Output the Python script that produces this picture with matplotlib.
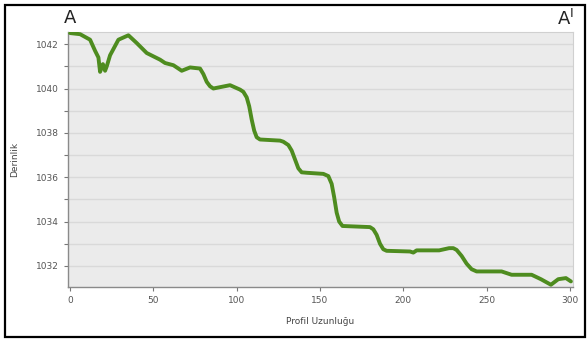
import matplotlib.pyplot as plt
from matplotlib.patches import Rectangle
from matplotlib.ticker import MultipleLocator

# profile: distance along the section vs. depth
distance = [0, 6, 12, 15, 17, 18, 19.7, 21, 22, 24, 29, 35, 40, 46, 54, 57, 62,
            67, 72, 78, 80, 82, 84, 86, 96, 102, 104, 106, 107.5, 109, 110.5,
            112, 114, 126, 128, 131, 133, 135, 137, 139, 142, 152, 155, 157,
            158.5, 160, 161.5, 163.5, 180, 182, 184, 186, 188, 190, 204, 206,
            208, 221.5, 227.5, 230, 232, 235, 238, 241, 244, 259, 265, 277,
            282.6, 288.6, 293, 297.6, 300.6]
depth = [1042.5, 1042.45, 1042.2, 1041.7, 1041.4, 1040.75, 1041.1, 1040.8,
         1041.0, 1041.5, 1042.2, 1042.4, 1042.05, 1041.6, 1041.3, 1041.15,
         1041.05, 1040.8, 1040.95, 1040.9, 1040.65, 1040.3, 1040.1, 1040.0,
         1040.15, 1039.95, 1039.85, 1039.6, 1039.2, 1038.6, 1038.1, 1037.8,
         1037.7, 1037.65, 1037.6, 1037.45, 1037.2, 1036.8, 1036.4, 1036.22,
         1036.2, 1036.15, 1036.05, 1035.7, 1035.1, 1034.4, 1034.0, 1033.8,
         1033.75, 1033.65, 1033.4, 1033.0, 1032.75, 1032.68, 1032.65, 1032.6,
         1032.7, 1032.7, 1032.8, 1032.8, 1032.72, 1032.45, 1032.1, 1031.85,
         1031.75, 1031.75, 1031.6, 1031.6, 1031.4, 1031.15, 1031.4, 1031.45,
         1031.3]

x_ticks = [0, 50, 100, 150, 200, 250, 300]
y_ticks = [1032, 1034, 1036, 1038, 1040, 1042]

fig = plt.figure(figsize=(5.87, 3.40), dpi=100)
fig.patch.set_facecolor('white')
ax = fig.add_axes([0.116, 0.156, 0.86, 0.75])
ax.set_facecolor('#ebebeb')

ax.plot(distance, depth, color='#4e8c1f', linewidth=2.8, solid_capstyle='round',
        solid_joinstyle='round', zorder=3)

ax.set_xlim(-1.2, 301.8)
ax.set_ylim(1031.05, 1042.55)
ax.set_xticks(x_ticks)
ax.set_yticks(y_ticks)
ax.yaxis.set_minor_locator(MultipleLocator(1))
ax.grid(True, which='both', axis='y', color='#d9d9d9', linewidth=1.0, zorder=1)
ax.set_axisbelow(True)

ax.tick_params(axis='both', which='both', direction='out', length=3,
               width=0.8, color='#777777', labelsize=6.5, labelcolor='#555555')
for side in ('left', 'bottom'):
    ax.spines[side].set_color('#8a8a8a')
    ax.spines[side].set_linewidth(1.0)
for side in ('top', 'right'):
    ax.spines[side].set_color('#d0d0d0')
    ax.spines[side].set_linewidth(0.8)

ax.set_xlabel('Profil Uzunluğu', fontsize=6.5, color='#444444', labelpad=9)
ax.set_ylabel('Derinlik', fontsize=6.5, color='#444444', labelpad=12)

fig.text(70 / 587, 1 - 18 / 340, 'A', fontsize=13, ha='center', va='center',
         color='#222222')
fig.text(565 / 587, 1 - 19 / 340, "A$^{\\mathsf{I}}$", fontsize=13, ha='center',
         va='center', color='#222222')

# outer frame
fig.patches.append(Rectangle((5 / 587, 3 / 340), 580 / 587, 332 / 340,
                             transform=fig.transFigure, fill=False,
                             edgecolor='black', linewidth=1.6))

fig.savefig('out.png', dpi=100)
